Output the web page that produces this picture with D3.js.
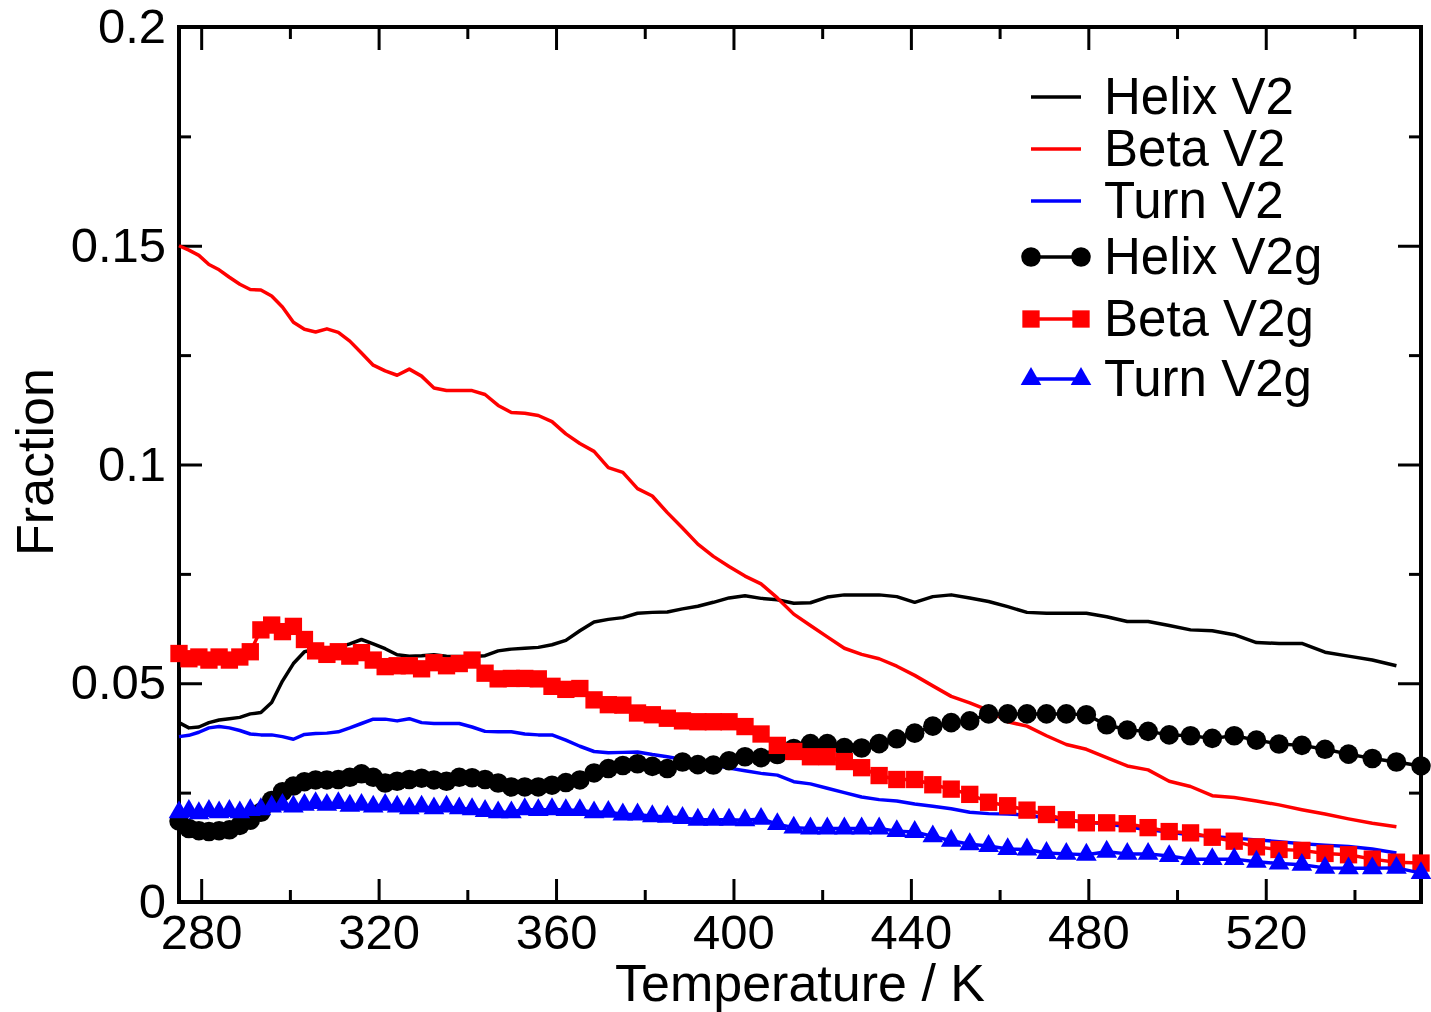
<!DOCTYPE html>
<html><head><meta charset="utf-8">
<script src="https://cdn.jsdelivr.net/npm/d3@7"></script>
<style>body{margin:0;background:#fff}svg{display:block}text{font-family:"Liberation Sans",Arial,Helvetica,sans-serif;fill:#000}</style>
</head><body><svg id="c" width="1431" height="1012"></svg>
<script>
const temperatures = [275.0,277.23,279.48,281.75,284.04,286.36,288.71,291.07,293.46,295.89,298.32,300.79,303.28,305.8,308.34,310.92,313.51,316.14,318.79,321.48,324.18,326.92,329.69,332.48,335.31,338.18,341.07,344.0,346.95,349.93,352.95,356.0,359.09,362.21,365.37,368.57,371.79,375.06,378.37,381.71,385.09,388.51,391.97,395.47,399.0,402.6,406.22,409.89,413.59,417.35,421.15,425.0,428.89,432.84,436.82,440.86,444.94,449.09,453.27,457.52,461.82,466.17,470.57,475.04,479.56,484.14,488.78,493.48,498.23,503.05,507.94,512.89,517.9,522.99,528.14,533.36,538.66,544.02,549.46,555.0];

const helixV2 = [0.0410,0.0398,0.0400,0.0410,0.0416,0.0419,0.0422,0.0430,0.0433,0.0456,0.0505,0.0545,0.0572,0.0578,0.0580,0.0582,0.0590,0.0600,0.0590,0.0579,0.0565,0.0562,0.0563,0.0565,0.0562,0.0561,0.0561,0.0563,0.0574,0.0578,0.0580,0.0582,0.0588,0.0598,0.0620,0.0640,0.0646,0.0650,0.0660,0.0662,0.0663,0.0670,0.0676,0.0685,0.0695,0.0700,0.0694,0.0691,0.0683,0.0684,0.0697,0.0702,0.0702,0.0702,0.0698,0.0685,0.0698,0.0702,0.0695,0.0687,0.0675,0.0662,0.0660,0.0660,0.0660,0.0652,0.0641,0.0641,0.0632,0.0622,0.0620,0.0611,0.0593,0.0591,0.0591,0.0571,0.0562,0.0553,0.0540];

const betaV2 = [0.1500,0.1490,0.1478,0.1457,0.1445,0.1428,0.1412,0.1400,0.1399,0.1385,0.1360,0.1325,0.1309,0.1303,0.1310,0.1302,0.1282,0.1255,0.1227,0.1214,0.1204,0.1218,0.1202,0.1175,0.1169,0.1169,0.1169,0.1160,0.1135,0.1119,0.1117,0.1112,0.1098,0.1070,0.1048,0.1030,0.0993,0.0982,0.0945,0.0928,0.0890,0.0855,0.0818,0.0790,0.0767,0.0745,0.0727,0.0695,0.0658,0.0632,0.0606,0.0580,0.0566,0.0556,0.0539,0.0518,0.0494,0.0470,0.0455,0.0438,0.0412,0.0402,0.0380,0.0360,0.0349,0.0330,0.0311,0.0302,0.0276,0.0264,0.0243,0.0239,0.0231,0.0222,0.0211,0.0201,0.0190,0.0180,0.0172];

const turnV2 = [0.0378,0.0381,0.0388,0.0398,0.0401,0.0398,0.0392,0.0384,0.0382,0.0382,0.0378,0.0372,0.0383,0.0385,0.0386,0.0389,0.0398,0.0408,0.0418,0.0418,0.0414,0.0419,0.0410,0.0408,0.0408,0.0408,0.0400,0.0390,0.0389,0.0389,0.0384,0.0382,0.0382,0.0370,0.0356,0.0344,0.0341,0.0342,0.0343,0.0337,0.0332,0.0326,0.0322,0.0313,0.0306,0.0300,0.0294,0.0290,0.0275,0.0270,0.0260,0.0250,0.0240,0.0234,0.0231,0.0224,0.0219,0.0213,0.0205,0.0202,0.0201,0.0199,0.0192,0.0187,0.0183,0.0178,0.0172,0.0165,0.0160,0.0153,0.0150,0.0146,0.0142,0.0138,0.0133,0.0130,0.0127,0.0121,0.0112];

const helixV2g = [0.0185,0.0168,0.0163,0.0161,0.0163,0.0165,0.0175,0.0187,0.0205,0.0232,0.0252,0.0265,0.0275,0.0279,0.0279,0.0280,0.0285,0.0293,0.0285,0.0272,0.0276,0.0280,0.0283,0.0279,0.0276,0.0285,0.0284,0.0280,0.0272,0.0263,0.0263,0.0263,0.0267,0.0273,0.0279,0.0295,0.0305,0.0312,0.0316,0.0310,0.0305,0.0320,0.0314,0.0313,0.0323,0.0332,0.0330,0.0337,0.0351,0.0362,0.0362,0.0353,0.0352,0.0362,0.0373,0.0386,0.0402,0.0410,0.0414,0.0430,0.0430,0.0430,0.0430,0.0430,0.0428,0.0405,0.0393,0.0390,0.0382,0.0380,0.0374,0.0380,0.0370,0.0361,0.0358,0.0349,0.0338,0.0328,0.0320,0.0311];

const betaV2g = [0.0568,0.0556,0.0560,0.0553,0.0560,0.0553,0.0560,0.0572,0.0622,0.0633,0.0618,0.0630,0.0600,0.0574,0.0566,0.0572,0.0562,0.0570,0.0553,0.0538,0.0540,0.0540,0.0533,0.0547,0.0540,0.0545,0.0553,0.0523,0.0510,0.0511,0.0511,0.0510,0.0493,0.0486,0.0488,0.0462,0.0451,0.0450,0.0432,0.0428,0.0420,0.0414,0.0412,0.0412,0.0412,0.0401,0.0384,0.0358,0.0344,0.0332,0.0332,0.0321,0.0307,0.0289,0.0280,0.0280,0.0268,0.0258,0.0246,0.0228,0.0220,0.0210,0.0200,0.0188,0.0181,0.0181,0.0179,0.0170,0.0161,0.0158,0.0148,0.0139,0.0126,0.0120,0.0118,0.0111,0.0108,0.0098,0.0091,0.0089];

const turnV2g = [0.0205,0.0208,0.0203,0.0208,0.0205,0.0208,0.0205,0.0210,0.0212,0.0218,0.0222,0.0218,0.0222,0.0226,0.0222,0.0226,0.0220,0.0222,0.0218,0.0222,0.0218,0.0214,0.0218,0.0214,0.0218,0.0214,0.0212,0.0208,0.0205,0.0205,0.0212,0.0210,0.0212,0.0210,0.0210,0.0205,0.0206,0.0200,0.0200,0.0196,0.0195,0.0192,0.0188,0.0188,0.0188,0.0187,0.0190,0.0178,0.0170,0.0168,0.0168,0.0168,0.0168,0.0168,0.0162,0.0160,0.0150,0.0140,0.0132,0.0128,0.0121,0.0120,0.0112,0.0110,0.0108,0.0115,0.0110,0.0110,0.0105,0.0098,0.0098,0.0098,0.0092,0.0088,0.0085,0.0078,0.0077,0.0077,0.0078,0.0066];

const xTicks = [280,320,360,400,440,480,520];
const xMinorTicks = [300,340,380,420,460,500,540];
const yTicks = [0,0.05,0.1,0.15,0.2];
const yMinorTicks = [0.025,0.075,0.125,0.175];
const seriesNames = ["Helix V2","Beta V2","Turn V2","Helix V2g","Beta V2g","Turn V2g"];
const xTitle = "Temperature / K";
const yTitle = "Fraction";

const series = [
  {name: seriesNames[0], values: helixV2, color: "#000000", symbol: null},
  {name: seriesNames[1], values: betaV2, color: "#ff0000", symbol: null},
  {name: seriesNames[2], values: turnV2, color: "#0000ff", symbol: null},
  {name: seriesNames[3], values: helixV2g, color: "#000000", symbol: "circle"},
  {name: seriesNames[4], values: betaV2g, color: "#ff0000", symbol: "square"},
  {name: seriesNames[5], values: turnV2g, color: "#0000ff", symbol: "triangle"}
];

const L = 179, R = 1421, T = 27, B = 902;
const svg = d3.select("#c");
const x = d3.scaleLinear().domain([275, 555]).range([L, R]);
const y = d3.scaleLinear().domain([0, 0.2]).range([B, T]);

const FS = 49;
function styleAxis(g, labels) {
  g.select(".domain").remove();
  g.selectAll(".tick line").attr("stroke", "#000").attr("stroke-width", 3);
  if (labels) g.selectAll(".tick text").style("font-size", FS + "px").attr("fill", "#000").style("font-family", '"Liberation Sans",Arial,sans-serif');
  else g.selectAll(".tick text").remove();
}
const axes = svg.append("g");
axes.append("g").attr("transform", `translate(0,${B})`)
  .call(d3.axisBottom(x).tickValues(xTicks).tickSize(-23).tickPadding(12).tickFormat(d3.format("d"))).call(g => styleAxis(g, true));
axes.append("g").attr("transform", `translate(0,${B})`)
  .call(d3.axisBottom(x).tickValues(xMinorTicks).tickSize(-12).tickFormat("")).call(g => styleAxis(g, false));
axes.append("g").attr("transform", `translate(0,${T})`)
  .call(d3.axisTop(x).tickValues(xTicks).tickSize(-23).tickFormat("")).call(g => styleAxis(g, false));
axes.append("g").attr("transform", `translate(0,${T})`)
  .call(d3.axisTop(x).tickValues(xMinorTicks).tickSize(-12).tickFormat("")).call(g => styleAxis(g, false));
axes.append("g").attr("transform", `translate(${L},0)`)
  .call(d3.axisLeft(y).tickValues(yTicks).tickSize(-23).tickPadding(13).tickFormat(d => String(d))).call(g => styleAxis(g, true));
axes.append("g").attr("transform", `translate(${L},0)`)
  .call(d3.axisLeft(y).tickValues(yMinorTicks).tickSize(-12).tickFormat("")).call(g => styleAxis(g, false));
axes.append("g").attr("transform", `translate(${R},0)`)
  .call(d3.axisRight(y).tickValues(yTicks).tickSize(-23).tickFormat("")).call(g => styleAxis(g, false));
axes.append("g").attr("transform", `translate(${R},0)`)
  .call(d3.axisRight(y).tickValues(yMinorTicks).tickSize(-12).tickFormat("")).call(g => styleAxis(g, false));
axes.append("rect").attr("x", L).attr("y", T).attr("width", R - L).attr("height", B - T)
  .attr("fill", "none").attr("stroke", "#000").attr("stroke-width", 4);

svg.append("text").attr("x", 800).attr("y", 1001).attr("text-anchor", "middle")
  .style("font-size", "52px").text(xTitle);
svg.append("text").attr("transform", "translate(53,462) rotate(-90)").attr("text-anchor", "middle")
  .style("font-size", "52px").text(yTitle);

const symType = {circle: d3.symbolCircle, square: d3.symbolSquare, triangle: d3.symbolTriangle};
const symSize = {circle: 300, square: 300, triangle: 185};
const line = d3.line().x(d => x(d[0])).y(d => y(d[1]));

const plot = svg.append("g");
series.forEach(s => {
  const pts = s.values.map((v, i) => [temperatures[i], v]);
  const g = plot.append("g");
  g.append("path").attr("d", line(pts)).attr("fill", "none").attr("stroke", s.color)
    .attr("stroke-width", 3.5).attr("stroke-linejoin", "round");
  if (s.symbol) {
    g.selectAll("path.m").data(pts).enter().append("path").attr("class", "m")
      .attr("d", d3.symbol().type(symType[s.symbol]).size(symSize[s.symbol]))
      .attr("transform", d => `translate(${x(d[0])},${y(d[1])})`)
      .attr("fill", s.color);
  }
});

// legend
const legY = [97, 149, 201, 257, 319, 379];
const leg = svg.append("g");
series.forEach((s, i) => {
  const gy = legY[i];
  leg.append("line").attr("x1", 1031).attr("x2", 1081).attr("y1", gy).attr("y2", gy)
    .attr("stroke", s.color).attr("stroke-width", 3.5);
  if (s.symbol) {
    [1031, 1081].forEach(px => leg.append("path")
      .attr("d", d3.symbol().type(symType[s.symbol]).size(symSize[s.symbol]))
      .attr("transform", `translate(${px},${gy})`).attr("fill", s.color));
  }
  leg.append("text").attr("x", 1104).attr("y", gy + 17).style("font-size", "51px").text(s.name);
});
</script></body></html>
